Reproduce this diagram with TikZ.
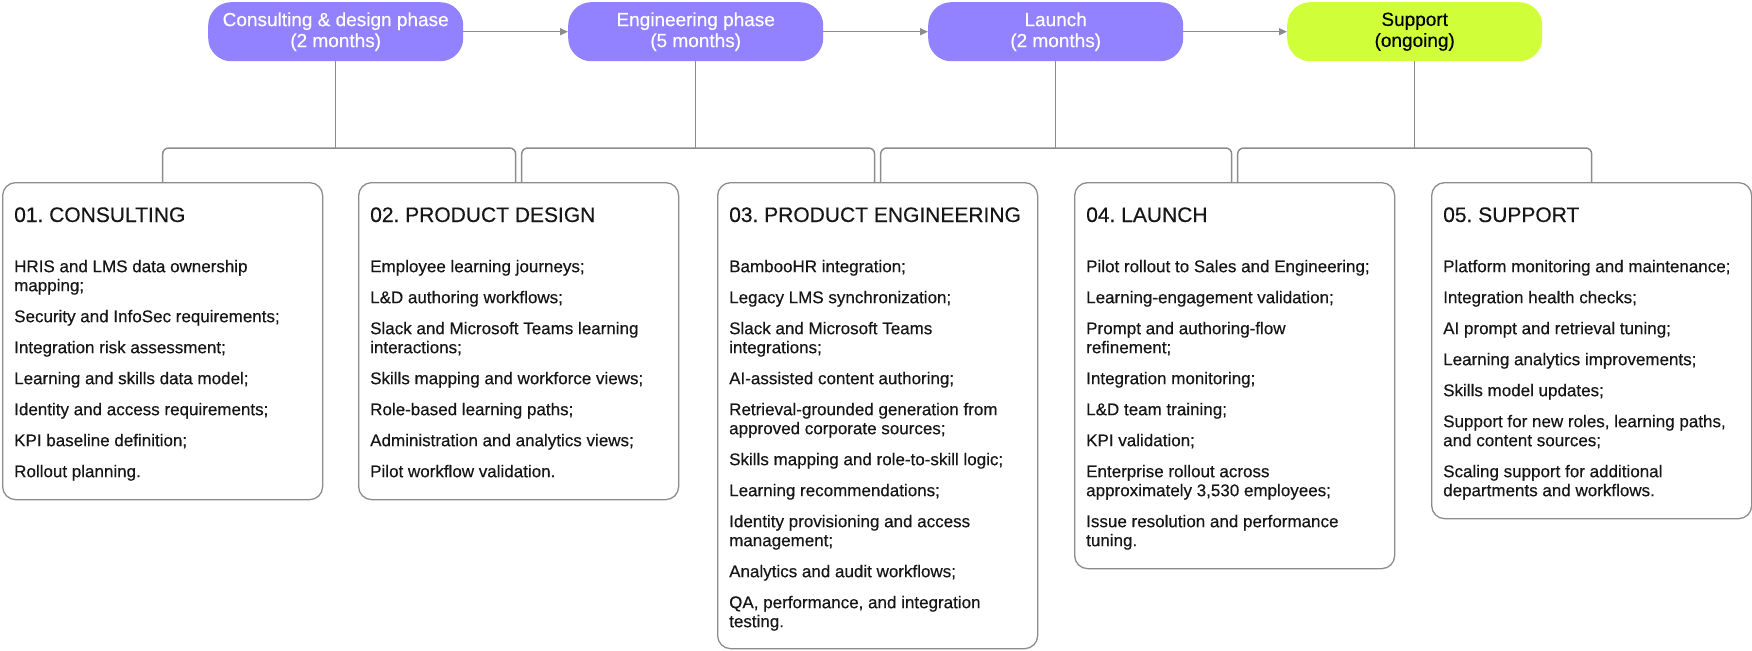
\documentclass[tikz,border=0pt]{standalone}
\usepackage{fontspec}
\setmainfont{Liberation Sans}[FakeBold=0.4]
\usetikzlibrary{arrows.meta,calc}
\definecolor{phasecol}{HTML}{9282FF}
\definecolor{limecol}{HTML}{D0FF3A}
\definecolor{conn}{HTML}{8C8C8C}
\definecolor{ink}{HTML}{161616}
\frenchspacing
\begin{document}
\begin{tikzpicture}[x=1pt,y=-1pt,
  phasebox/.style={rounded corners=23pt, minimum width=255pt, minimum height=59pt, anchor=north west, inner sep=0pt, align=center, font=\fontsize{19}{21}\selectfont},
  phasep/.style={phasebox, fill=phasecol, text=white},
  phaseg/.style={phasebox, fill=limecol, text=black},
  card/.style={draw=conn, line width=1.3pt, rounded corners=13pt, minimum width=320pt, anchor=north west, inner sep=0pt},
  cardtitle/.style={anchor=base west, inner sep=0pt, text=ink, font=\fontsize{21}{25}\selectfont\frenchspacing},
  cardbody/.style={anchor=north west, inner sep=0pt, text=ink, align=left, font=\fontsize{17}{19}\selectfont\frenchspacing},
  link/.style={draw=conn, line width=1.5pt},
  flow/.style={link, -{Triangle[length=8pt,width=7pt]}},
  tree/.style={link, rounded corners=6pt}]
\useasboundingbox (0,0) rectangle (1752,650);

% phases
\node[phasep] (p1) at (208,2) {Consulting \& design phase\\(2 months)};
\node[phasep] (p2) at (568,2) {Engineering phase\\(5 months)};
\node[phasep] (p3) at (928,2) {Launch\\(2 months)};
\node[phaseg] (p4) at (1287,2) {Support\\(ongoing)};

\draw[flow] (p1.east) -- (p2.west);
\draw[flow] (p2.east) -- (p3.west);
\draw[flow] (p3.east) -- (p4.west);

% cards
\node[card, minimum height=317pt] (b1) at (2,182) {};
\node[card, minimum height=317pt] (b2) at (358,182) {};
\node[card, minimum height=466pt] (b3) at (717,182) {};
\node[card, minimum height=386pt] (b4) at (1074,182) {};
\node[card, minimum height=336pt] (b5) at (1431,182) {};

% tree connectors
\coordinate (bar) at (0,148);
\coordinate (d2l) at ($(b2.north)+(-3,0)$);
\coordinate (d2r) at ($(b2.north)+(3,0)$);
\coordinate (d3l) at ($(b3.north)+(-3,0)$);
\coordinate (d3r) at ($(b3.north)+(3,0)$);
\coordinate (d4l) at ($(b4.north)+(-3,0)$);
\coordinate (d4r) at ($(b4.north)+(3,0)$);

\draw[link] (p1.south) -- (p1.south |- bar);
\draw[link] (p2.south) -- (p2.south |- bar);
\draw[link] (p3.south) -- (p3.south |- bar);
\draw[link] (p4.south) -- (p4.south |- bar);

\draw[tree] (b1.north) -- (b1.north |- bar) -- (d2l |- bar) -- (d2l);
\draw[tree] (d2r) -- (d2r |- bar) -- (d3l |- bar) -- (d3l);
\draw[tree] (d3r) -- (d3r |- bar) -- (d4l |- bar) -- (d4l);
\draw[tree] (d4r) -- (d4r |- bar) -- (b5.north |- bar) -- (b5.north);

% titles
\node[cardtitle] (t1) at ($(b1.north west)+(12,40)$) {01. CONSULTING};
\node[cardtitle] (t2) at ($(b2.north west)+(12,40)$) {02. PRODUCT DESIGN};
\node[cardtitle] (t3) at ($(b3.north west)+(12,40)$) {03. PRODUCT ENGINEERING};
\node[cardtitle] (t4) at ($(b4.north west)+(12,40)$) {04. LAUNCH};
\node[cardtitle] (t5) at ($(b5.north west)+(12,40)$) {05. SUPPORT};

% bodies
\node[cardbody] (c1) at ($(b1.north west)+(12,76.7)$) {\strut HRIS and LMS data ownership\\mapping;\\[12pt]Security and InfoSec requirements;\\[12pt]Integration risk assessment;\\[12pt]Learning and skills data model;\\[12pt]Identity and access requirements;\\[12pt]KPI baseline definition;\\[12pt]Rollout planning.};

\node[cardbody] (c2) at ($(b2.north west)+(12,76.7)$) {\strut Employee learning journeys;\\[12pt]L\&D authoring workflows;\\[12pt]Slack and Microsoft Teams learning\\interactions;\\[12pt]Skills mapping and workforce views;\\[12pt]Role-based learning paths;\\[12pt]Administration and analytics views;\\[12pt]Pilot workflow validation.};

\node[cardbody] (c3) at ($(b3.north west)+(12,76.7)$) {\strut BambooHR integration;\\[12pt]Legacy LMS synchronization;\\[12pt]Slack and Microsoft Teams\\integrations;\\[12pt]AI-assisted content authoring;\\[12pt]Retrieval-grounded generation from\\approved corporate sources;\\[12pt]Skills mapping and role-to-skill logic;\\[12pt]Learning recommendations;\\[12pt]Identity provisioning and access\\management;\\[12pt]Analytics and audit workflows;\\[12pt]QA, performance, and integration\\testing.};

\node[cardbody] (c4) at ($(b4.north west)+(12,76.7)$) {\strut Pilot rollout to Sales and Engineering;\\[12pt]Learning-engagement validation;\\[12pt]Prompt and authoring-flow\\refinement;\\[12pt]Integration monitoring;\\[12pt]L\&D team training;\\[12pt]KPI validation;\\[12pt]Enterprise rollout across\\approximately 3,530 employees;\\[12pt]Issue resolution and performance\\tuning.};

\node[cardbody] (c5) at ($(b5.north west)+(12,76.7)$) {\strut Platform monitoring and maintenance;\\[12pt]Integration health checks;\\[12pt]AI prompt and retrieval tuning;\\[12pt]Learning analytics improvements;\\[12pt]Skills model updates;\\[12pt]Support for new roles, learning paths,\\and content sources;\\[12pt]Scaling support for additional\\departments and workflows.};
\end{tikzpicture}
\end{document}
